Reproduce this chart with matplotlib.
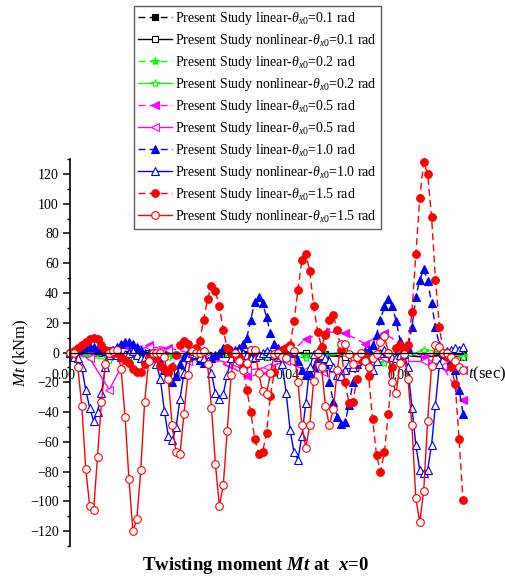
import matplotlib
matplotlib.use("Agg")
import matplotlib.pyplot as plt
import matplotlib.transforms as mtransforms
import numpy as np

plt.rcParams["font.family"] = ["Liberation Serif", "DejaVu Serif"]
plt.rcParams["mathtext.fontset"] = "custom"
plt.rcParams["mathtext.rm"] = "Liberation Serif"
plt.rcParams["mathtext.it"] = "Liberation Serif:italic"
plt.rcParams["mathtext.bf"] = "Liberation Serif:bold"
plt.rcParams["mathtext.bfit"] = "Liberation Serif:bold:italic"

# sample times (s): fine records every 0.0007 s, coarse ones every 0.0035 s
DT = 0.0007
t_fine = np.round(np.arange(101) * DT, 5)
t_coarse = t_fine[::5]

# twisting moment Mt (kNm)
black_lin = [0, -1, -2, -1, 0, -1, -3, -2, 0, -1, -2, -2, 0, -1, -3, -1, 0, -2, -3, -1, -2]
black_nonlin = [0, -2, -3, -1, 0, -2, -3, -2, -1, -2, -3, -1, 0, -2, -3, -2, 0, -2, -3, -2, -3]
green_lin = [0, -2, -3, -2, -1, -2, -3, -1, 0, -4, -2, 0, -2, -1, 0, -2, -4, -2, 1, 0, -2]
green_nonlin = [0, -3, -5, -3, -1, -3, -5, -2, 0, -7, -3, -1, -4, -2, 0, -3, -7, -4, 2, 0, -3]
magenta_lin = [0, 1, 2, 3, 5, 3, 0, -4, -8, -16, -14, -2, 9, 14, 13, 6, 13, 4, -3, -10, -32]
magenta_nonlin = [0, -4, -25, 0, 4, 2, -6, -3, -7, -12, -10, -6, -12, -14, -12, -7, -4, -6, -6, -9, -12]
blue_lin = [
    0, 1, 2, 3, 4, 4, 4, 3, 2, 1,
    1, 2, 4, 6, 7, 7, 6, 4, 2, 0,
    0, -1, -3, -6, -12, -16, -20, -16, -8, -3,
    0, 0, -2, -5, -7, -6, -4, -2, 0, 3,
    3, 2, 2, 3, 6, 10, 22, 34, 37, 33,
    24, 13, 6, 3, 2, 3, 4, 0, -6, -12,
    -15, -14, -10, -4, 0, -8, -20, -33, -43, -48,
    -47, -35, -20, -8, -1, 1, 2, 5, 12, 22,
    31, 36, 31, 21, 8, 2, 3, 17, 37, 49,
    56, 48, 33, 17, 5, 0, -2, -5, -12, -25,
    -41,
]
blue_nonlin = [
    0, -3, -4, -10, -25, -37, -46, -40, -27, -10,
    -2, 0, -2, -3, -1, 0, 1, -2, -4, -3,
    -1, -3, -8, -18, -39, -56, -59, -50, -31, -14,
    -3, 0, -1, -3, -4, -6, -14, -27, -31, -28,
    -15, -4, 0, 1, 0, -2, -4, -3, -2, 0,
    1, 0, -2, -3, -8, -27, -52, -67, -72, -56,
    -34, -10, -1, 1, -2, -4, -6, -10, -15, -16,
    -12, -8, -10, -6, -2, -4, -8, -12, -6, 0,
    2, 0, -3, -4, -2, -1, -10, -37, -62, -79,
    -81, -79, -62, -35, -8, 0, 1, 2, 3, 2,
    4,
]
red_lin = [
    0, 1, 3, 5, 7, 9, 10, 9, 5, 2,
    1, 0, 0, -3, -5, -7, -11, -13, -13, -8,
    -3, 0, -4, -9, -11, -14, -10, -2, 5, 8,
    6, 1, 3, 8, 22, 36, 45, 41, 31, 15,
    3, 0, -1, -3, -10, -25, -40, -58, -68, -67,
    -54, -29, -13, -2, 2, 3, 5, 21, 42, 62,
    66, 55, 31, 14, 4, 12, 22, 25, 15, 2,
    -20, -34, -33, -18, -5, -2, -16, -45, -69, -80,
    -67, -41, -10, 3, 5, 2, 5, 27, 66, 104,
    128, 120, 91, 49, 17, 0, -3, -10, -21, -58,
    -99,
]
red_nonlin = [
    0, 0, -10, -36, -78, -103, -106, -70, -33, -8,
    0, 1, 2, -11, -43, -85, -120, -112, -79, -33,
    -6, 0, 0, 0, -3, -18, -49, -67, -68, -41,
    -15, 1, 0, 0, 1, -8, -37, -75, -103, -89,
    -53, -15, 0, -6, -12, -7, 2, 2, -14, -26,
    -28, -14, -1, 0, -3, -4, 3, 1, -20, -49,
    -64, -49, -19, 0, -10, -36, -49, -38, -12, 6,
    6, -1, -8, -3, 0, -6, -10, -4, -1, 7,
    11, 0, -20, -27, -7, -1, -18, -49, -98, -114,
    -93, -46, -9, 5, 4, 0, 0, -3, -6, -10,
    -12,
]

labels = [
    r"Present Study linear-$\theta_{x0}$=0.1 rad",
    r"Present Study nonlinear-$\theta_{x0}$=0.1 rad",
    r"Present Study linear-$\theta_{x0}$=0.2 rad",
    r"Present Study nonlinear-$\theta_{x0}$=0.2 rad",
    r"Present Study linear-$\theta_{x0}$=0.5 rad",
    r"Present Study linear-$\theta_{x0}$=0.5 rad",
    r"Present Study linear-$\theta_{x0}$=1.0 rad",
    r"Present Study nonlinear-$\theta_{x0}$=1.0 rad",
    r"Present Study linear-$\theta_{x0}$=1.5 rad",
    r"Present Study nonlinear-$\theta_{x0}$=1.5 rad",
]

DASH = (0, (5, 3))
series = [
    (t_coarse, black_lin, "black", DASH, "s", True, 4.5),
    (t_coarse, black_nonlin, "black", "-", "s", False, 4.5),
    (t_coarse, green_lin, "#00FF00", DASH, "*", True, 6),
    (t_coarse, green_nonlin, "#00FF00", "-", "*", False, 6),
    (t_coarse, magenta_lin, "#FF00FF", DASH, "<", True, 6),
    (t_coarse, magenta_nonlin, "#FF00FF", "-", "<", False, 6),
    (t_fine, blue_lin, "#0000FF", DASH, "^", True, 6),
    (t_fine, blue_nonlin, "#0000FF", "-", "^", False, 6),
    (t_fine, red_lin, "#FF0000", DASH, "o", True, 5.5),
    (t_fine, red_nonlin, "#FF0000", "-", "o", False, 5.5),
]

fig = plt.figure(figsize=(5.06, 5.78), dpi=100)
ax = fig.add_axes([70 / 506, 1 - 546 / 578, 393 / 506, 387 / 578])

for (t, m, color, ls, marker, filled, ms), label in zip(series, labels):
    ax.plot(
        t, m, color=color, linestyle=ls, linewidth=1.0,
        marker=marker, markersize=ms,
        markerfacecolor=color if filled else "white",
        markeredgecolor=color, markeredgewidth=0.8,
        label=label, clip_on=False,
    )

ax.set_xlim(0, 0.07)
ax.set_ylim(-130, 130)
ax.set_axisbelow(True)
ax.spines["top"].set_visible(False)
ax.spines["right"].set_visible(False)
ax.spines["bottom"].set_position(("data", 0))
ax.spines["left"].set_linewidth(1.2)
ax.spines["bottom"].set_linewidth(1.0)

ax.set_yticks(np.arange(-120, 121, 20))
ax.set_yticks(np.arange(-130, 131, 10), minor=True)
ax.set_xticks([0.0, 0.02, 0.04, 0.06])
ax.set_xticklabels(["0.00", "0.02", "0.04", "0.06"])
ax.tick_params(axis="y", which="major", direction="out", length=5, width=1.1, labelsize=10, pad=3)
ax.tick_params(axis="y", which="minor", direction="out", length=2.5, width=1.0)
ax.tick_params(axis="x", which="major", direction="out", length=0, labelsize=10, pad=12)

offset = mtransforms.ScaledTranslation(-7 / 100, 0, fig.dpi_scale_trans)
for lab in ax.get_xticklabels():
    lab.set_transform(lab.get_transform() + offset)

ax.set_ylabel(r"$Mt$ (kNm)", fontsize=12)
ax.yaxis.set_label_coords(-0.10, 0.5)

ax.text(1.013, -15, r"$t$(sec)", fontsize=12, ha="left", va="center",
        transform=mtransforms.blended_transform_factory(ax.transAxes, ax.transData))

leg = fig.legend(
    loc="upper left", bbox_to_anchor=(134 / 506, 1 - 6 / 578), bbox_transform=fig.transFigure,
    borderaxespad=0, fontsize=10, frameon=True, fancybox=False, edgecolor="#333333",
    handlelength=2.4, handletextpad=0.25, labelspacing=0.36, borderpad=0.3, numpoints=1,
)
leg.get_frame().set_linewidth(1.0)

fig.text(0.506, 1 - 565 / 578, r"Twisting moment $\mathbfit{Mt}$ at  $\mathbfit{x}$=0",
         fontsize=13.5, fontweight="bold", ha="center", va="center")

fig.savefig("out.png", dpi=100)
